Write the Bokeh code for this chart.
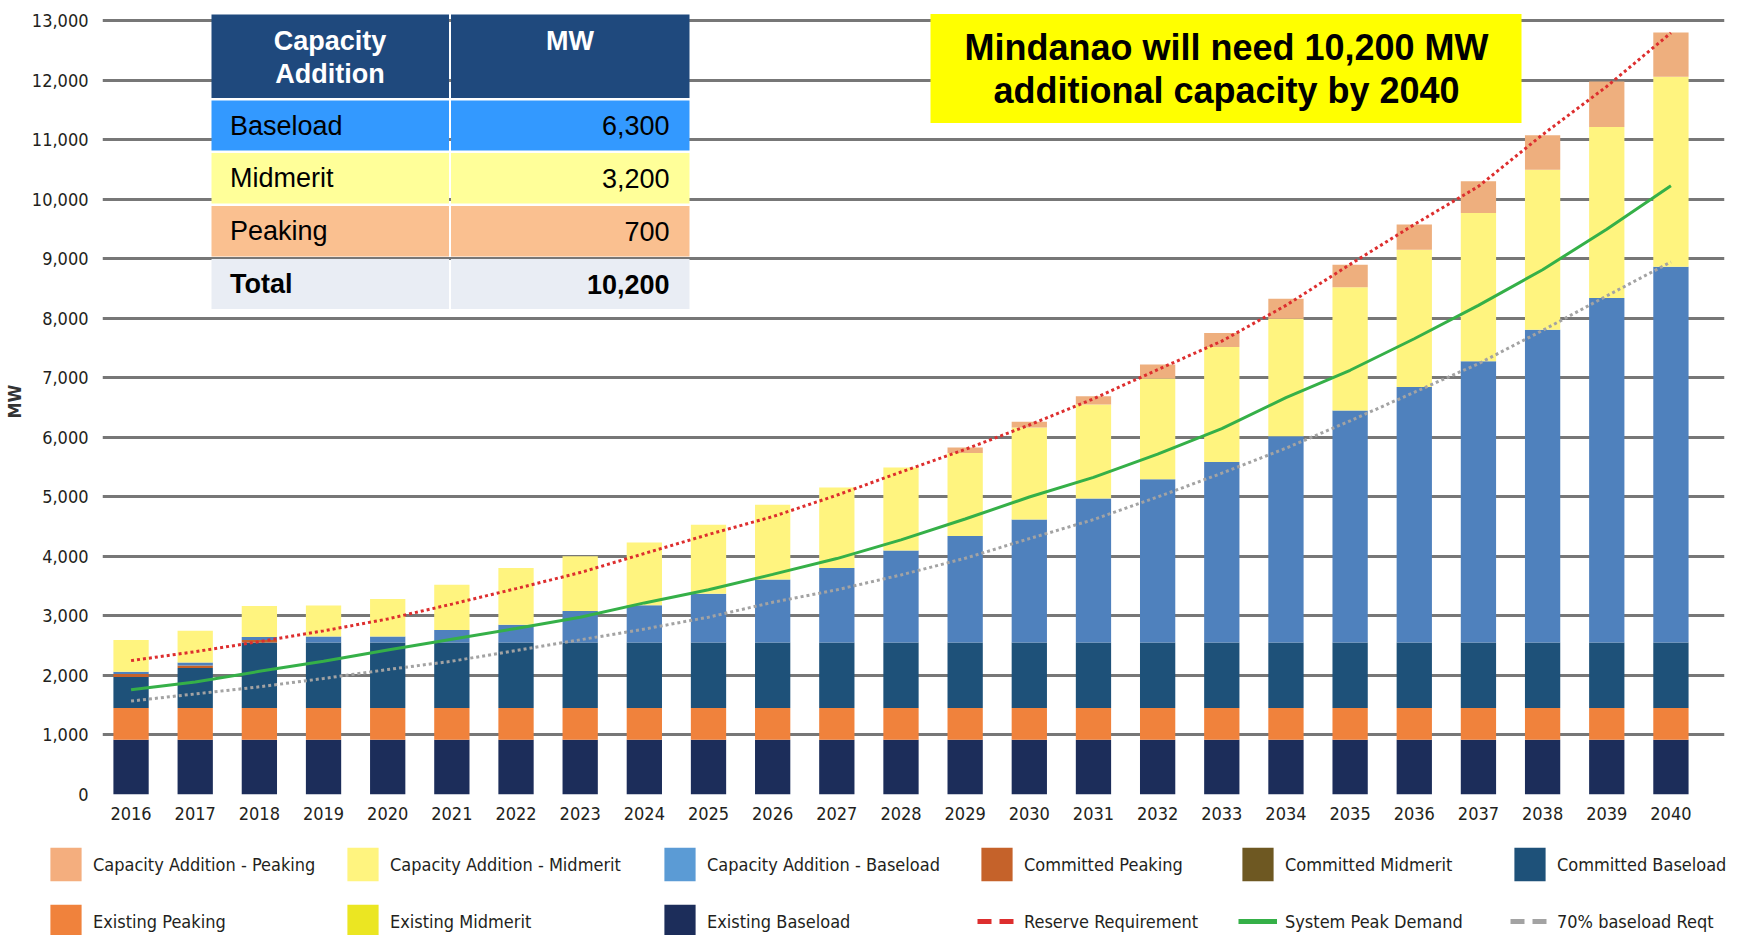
from bokeh.plotting import figure
from bokeh.layouts import column
from bokeh.models import (ColumnDataSource, Range1d, FixedTicker, NumeralTickFormatter,
                          Legend, LegendItem, BoxAnnotation, Label)
from bokeh.embed import file_html
from bokeh.resources import INLINE

# ---------------- data ----------------
years = [2016, 2017, 2018, 2019, 2020, 2021, 2022, 2023, 2024, 2025, 2026, 2027, 2028,
         2029, 2030, 2031, 2032, 2033, 2034, 2035, 2036, 2037, 2038, 2039, 2040]

existing_baseload = [920, 920, 920, 920, 920, 920, 920, 920, 920, 920, 920, 920, 920,
                     920, 920, 920, 920, 920, 920, 920, 920, 920, 920, 920, 920]
existing_peaking = [535, 535, 535, 535, 535, 535, 535, 535, 535, 535, 535, 535, 535,
                    535, 535, 535, 535, 535, 535, 535, 535, 535, 535, 535, 535]
existing_midmerit = [0, 0, 0, 0, 0, 0, 0, 0, 0, 0, 0, 0, 0,
                     0, 0, 0, 0, 0, 0, 0, 0, 0, 0, 0, 0]
committed_baseload = [520, 670, 1100, 1100, 1100, 1100, 1100, 1100, 1100, 1100, 1100, 1100, 1100,
                      1100, 1100, 1100, 1100, 1100, 1100, 1100, 1100, 1100, 1100, 1100, 1100]
committed_peaking = [50, 45, 40, 0, 0, 0, 0, 0, 0, 0, 0, 0, 0,
                     0, 0, 0, 0, 0, 0, 0, 0, 0, 0, 0, 0]
committed_midmerit = [0, 0, 0, 0, 0, 0, 0, 0, 0, 0, 0, 0, 0,
                      0, 0, 0, 0, 0, 0, 0, 0, 0, 0, 0, 0]
cap_add_baseload = [40, 50, 50, 100, 100, 210, 300, 530, 625, 820, 1060, 1250, 1545,
                    1790, 2065, 2420, 2745, 3035, 3465, 3900, 4295, 4725, 5255, 5790, 6315]
cap_add_midmerit = [530, 530, 525, 520, 630, 760, 950, 920, 1055, 1160, 1255, 1355, 1395,
                    1395, 1550, 1580, 1690, 1930, 1975, 2070, 2305, 2495, 2690, 2875, 3195]
cap_add_peaking = [0, 0, 0, 0, 0, 0, 0, 0, 0, 0, 0, 0, 0,
                   90, 95, 140, 235, 235, 335, 380, 425, 530, 580, 765, 740]

reserve_requirement = [2250, 2400, 2570, 2750, 2950, 3200, 3460, 3730, 4050, 4370, 4670, 5030, 5420,
                       5800, 6210, 6650, 7140, 7620, 8220, 8910, 9580, 10220, 11090, 11900, 12800]
system_peak_demand = [1760, 1890, 2070, 2240, 2430, 2610, 2790, 2980, 3220, 3440, 3700, 3965, 4280,
                      4630, 5000, 5330, 5720, 6150, 6670, 7130, 7660, 8220, 8820, 9500, 10230]
baseload_70_reqt = [1570, 1690, 1810, 1950, 2100, 2240, 2420, 2600, 2780, 2980, 3230, 3440, 3690,
                    3970, 4300, 4620, 5000, 5400, 5820, 6280, 6760, 7240, 7800, 8380, 8950]

y_ticks = [0, 1000, 2000, 3000, 4000, 5000, 6000, 7000, 8000, 9000, 10000, 11000, 12000, 13000]

table_header = ["Capacity", "Addition", "MW"]
table_rows = ["Baseload", "Midmerit", "Peaking", "Total"]
table_values = ["6,300", "3,200", "700", "10,200"]
callout_lines = ["Mindanao will need 10,200 MW", "additional capacity by 2040"]

# ---------------- styling ----------------
NARROW = "'DejaVu Sans Condensed', 'DejaVu Sans', sans-serif"
ARIAL = "'Liberation Sans', Arial, sans-serif"
TXT = "#231f20"

stack_cols = ["existing_baseload", "existing_peaking", "existing_midmerit",
              "committed_baseload", "committed_peaking", "committed_midmerit",
              "cap_add_baseload", "cap_add_midmerit", "cap_add_peaking"]
stack_colors = ["#1c2d5a", "#f0823c", "#e8e622",
                "#1e5179", "#c5622a", "#6e5822",
                "#4f81bd", "#fff47f", "#eeaf7e"]
legend_swatch = {"existing_baseload": "#1c2d5a", "existing_peaking": "#f0823c",
                 "existing_midmerit": "#ebe622", "committed_baseload": "#1e5179",
                 "committed_peaking": "#c5622a", "committed_midmerit": "#6e5822",
                 "cap_add_baseload": "#5b9bd5", "cap_add_midmerit": "#fff47f",
                 "cap_add_peaking": "#f4ae7e"}
RED, GREEN, GREY = "#dd2e2e", "#35b048", "#a3a3a3"

src = ColumnDataSource(data=dict(
    year=years,
    existing_baseload=existing_baseload, existing_peaking=existing_peaking,
    existing_midmerit=existing_midmerit, committed_baseload=committed_baseload,
    committed_peaking=committed_peaking, committed_midmerit=committed_midmerit,
    cap_add_baseload=cap_add_baseload, cap_add_midmerit=cap_add_midmerit,
    cap_add_peaking=cap_add_peaking,
    reserve=reserve_requirement, peak=system_peak_demand, base70=baseload_70_reqt,
))

W = 1730
ML, MR, MT = 100, 6, 8
FRAME_BOTTOM = 794
HM = 830                       # main figure height (frame + x-axis labels)
LH = 105                       # legend strip height
MB = HM - FRAME_BOTTOM

p = figure(width=W, height=HM, output_backend="svg", toolbar_location=None,
           x_range=Range1d(2015.555, 2040.835), y_range=Range1d(0, 13210),
           min_border_left=ML, min_border_right=MR, min_border_top=MT, min_border_bottom=MB)
p.frame_align = False
p.outline_line_color = None
p.background_fill_color = "white"
p.border_fill_color = "white"

p.xgrid.visible = False
p.ygrid.ticker = FixedTicker(ticks=y_ticks)
p.ygrid.grid_line_color = "#777777"
p.ygrid.grid_line_width = 3

p.yaxis.ticker = FixedTicker(ticks=y_ticks)
p.yaxis.formatter = NumeralTickFormatter(format="0,0")
p.xaxis.ticker = FixedTicker(ticks=years)
for ax in (p.xaxis, p.yaxis):
    ax.axis_line_color = None
    ax.major_tick_line_color = None
    ax.minor_tick_line_color = None
    ax.major_tick_out = 0
    ax.major_tick_in = 0
    ax.minor_tick_out = 0
    ax.major_label_text_font = NARROW
    ax.major_label_text_font_size = "18px"
    ax.major_label_text_color = TXT
p.yaxis.major_label_standoff = 14
p.xaxis.major_label_standoff = 12
p.yaxis.axis_label = "MW"
p.yaxis.axis_label_standoff = 4
p.yaxis.axis_label_text_font = NARROW
p.yaxis.axis_label_text_font_size = "18px"
p.yaxis.axis_label_text_font_style = "bold"
p.yaxis.axis_label_text_color = "#333333"

p.vbar_stack(stack_cols, x="year", width=0.55, source=src,
             fill_color=stack_colors, line_color=None)

p.line("year", "reserve", source=src, line_color=RED, line_width=3, line_dash="3 3")
p.line("year", "peak", source=src, line_color=GREEN, line_width=3)
p.line("year", "base70", source=src, line_color=GREY, line_width=3, line_dash="3 3")

# page coordinates -> frame-relative screen coordinates of the main figure
def fx(px):
    return px - ML
def fy(py):
    return FRAME_BOTTOM - py

def box(l, r_, t, b, color):
    p.add_layout(BoxAnnotation(left=fx(l), right=fx(r_), top=fy(t), bottom=fy(b),
                               left_units="screen", right_units="screen",
                               top_units="screen", bottom_units="screen",
                               fill_color=color, fill_alpha=1, line_color=None))

def label(x, y, text, align="center", color="black", size="27px", style="normal", font=ARIAL):
    p.add_layout(Label(x=fx(x), y=fy(y), x_units="screen", y_units="screen", text=text,
                       text_align=align, text_baseline="middle", text_font=font,
                       text_font_size=size, text_font_style=style, text_color=color))

# ---------------- summary table ----------------
col1 = (209, 446.5)
col2 = (448.5, 687)
header_y = (14, 97.5)
row_y = [(100, 150), (152.5, 203), (205.5, 256), (258.5, 308.5)]
row_colors = ["#3399ff", "#ffff99", "#fac090", "#e9edf4"]

box(col1[0], col1[1], header_y[0], header_y[1], "#1f497d")
box(col2[0], col2[1], header_y[0], header_y[1], "#1f497d")
for (t, b), c in zip(row_y, row_colors):
    box(col1[0], col1[1], t, b, c)
    box(col2[0], col2[1], t, b, c)

label(327.5, 40, table_header[0], color="white", style="bold")
label(327.5, 73, table_header[1], color="white", style="bold")
label(567.5, 40, table_header[2], color="white", style="bold")
for i, ((t, b), name, val) in enumerate(zip(row_y, table_rows, table_values)):
    st = "bold" if i == len(table_rows) - 1 else "normal"
    label(227.5, (t + b) / 2, name, align="left", style=st)
    label(667, (t + b) / 2, val, align="right", style=st)

# ---------------- callout ----------------
box(928, 1519, 13.5, 122.5, "#ffff00")
label(1224, 47, callout_lines[0], size="36px", style="bold")
label(1224, 90, callout_lines[1], size="36px", style="bold")

# ---------------- legend strip ----------------
lf = figure(width=W, height=LH, output_backend="svg", toolbar_location=None,
            x_range=Range1d(0, 1), y_range=Range1d(0, 1),
            x_axis_location=None, y_axis_location=None,
            min_border_left=0, min_border_right=0, min_border_top=0, min_border_bottom=0)
lf.frame_align = False
lf.grid.visible = False
lf.outline_line_color = None
lf.background_fill_color = "white"
lf.border_fill_color = "white"

# key samples: styled like the chart series; zero-size / out of view in the strip itself
key = {}
for name in stack_cols:
    key[name] = lf.vbar(x=[0.5], top=[0], bottom=[0], width=0.0,
                        fill_color=legend_swatch[name], line_color=None)
key["reserve"] = lf.line(x=[-10, -9], y=[0.5, 0.5], line_color=RED, line_width=5, line_dash="14 8")
key["peak"] = lf.line(x=[-10, -9], y=[0.5, 0.5], line_color=GREEN, line_width=5)
key["base70"] = lf.line(x=[-10, -9], y=[0.5, 0.5], line_color=GREY, line_width=5, line_dash="14 8")

legend_columns = [
    (46, [("Capacity Addition - Peaking", "cap_add_peaking"), ("Existing Peaking", "existing_peaking")]),
    (343, [("Capacity Addition - Midmerit", "cap_add_midmerit"), ("Existing Midmerit", "existing_midmerit")]),
    (660, [("Capacity Addition - Baseload", "cap_add_baseload"), ("Existing Baseload", "existing_baseload")]),
    (977, [("Committed Peaking", "committed_peaking"), ("Reserve Requirement", "reserve")]),
    (1238, [("Committed Midmerit", "committed_midmerit"), ("System Peak Demand", "peak")]),
    (1510, [("Committed Baseload", "committed_baseload"), ("70% baseload Reqt", "base70")]),
]
GH, GSP = 42, 15
LEG_TOP = 843 - HM              # legend top in strip coordinates
for px, items in legend_columns:
    lg = Legend(items=[LegendItem(label=t, renderers=[key[k]]) for t, k in items],
                location=(px, LH - (LEG_TOP + 2 * GH + GSP)),
                orientation="vertical", glyph_width=39, glyph_height=GH, spacing=GSP,
                label_standoff=8, padding=0, margin=0, border_line_color=None,
                background_fill_alpha=0, label_text_font=NARROW,
                label_text_font_size="18px", label_text_color=TXT,
                label_height=GH)
    lf.add_layout(lg, "center")

layout = column(p, lf, spacing=0)
open("out.html", "w").write(file_html(layout, INLINE, "Mindanao capacity"))
